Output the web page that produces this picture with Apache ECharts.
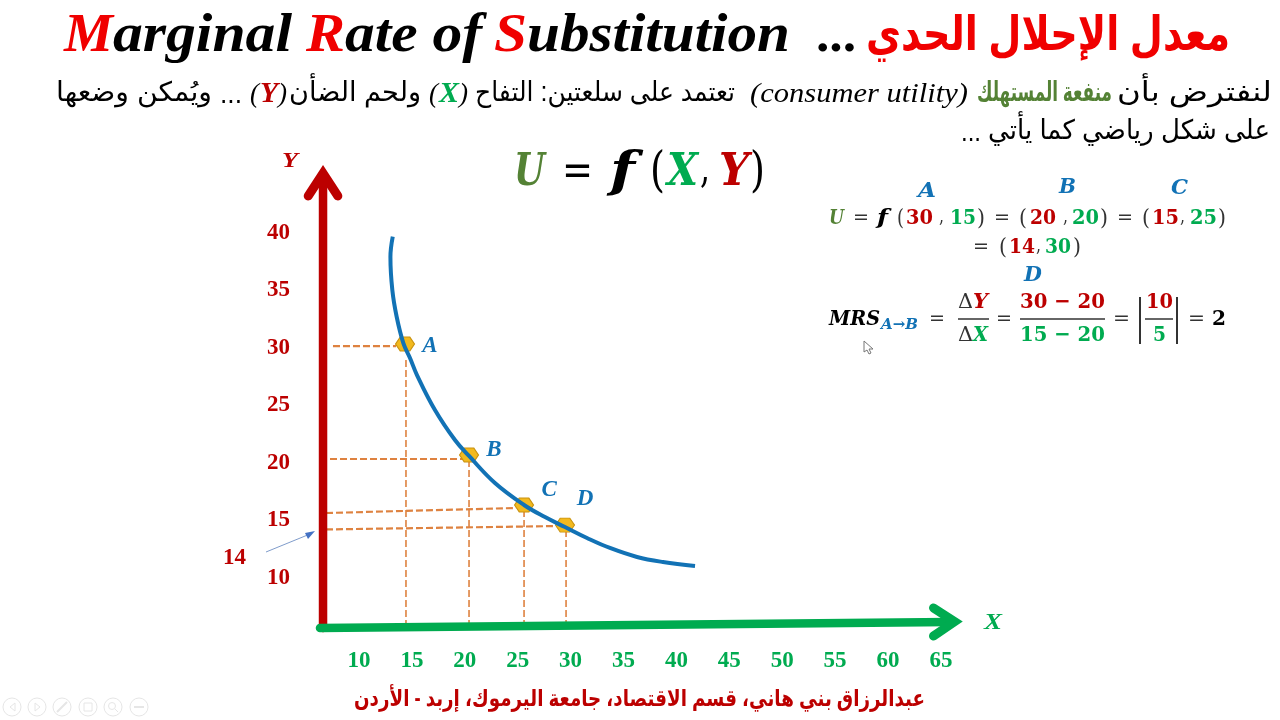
<!DOCTYPE html>
<html>
<head>
<meta charset="utf-8">
<title>Marginal Rate of Substitution</title>
<script src="https://cdn.jsdelivr.net/npm/echarts@6/dist/echarts.min.js"></script>
<style>
  html, body { margin: 0; padding: 0; background: #fff; }
  #chart { width: 1280px; height: 720px; }
</style>
</head>
<body>
<div id="chart"></div>
<script>
// indifference curve [x, y]
const curve = [
  [13.19, 39.68], [12.97, 37.91], [13.15, 35.04], [13.56, 32.72], [14.19, 30.43],
  [14.82, 29.13], [15.48, 27.65], [17.18, 24.61], [19.07, 22.0], [20.4, 20.61], [22.85, 18.26],
  [25.6, 16.35], [27.58, 15.3], [29.47, 14.43], [31.55, 13.48], [33.72, 12.61],
  [36.28, 11.83], [38.73, 11.39], [41.76, 11.04]
];
const pointNames = ['A', 'B', 'C', 'D'];
const pointsX = [14.35, 20.4, 25.6, 29.47];
const pointsY = [30.35, 20.7, 16.35, 14.6];

// dashed guides, hand drawn on the slide so slightly tilted
const guideH = [
  [[7.54, 30.17], [13.5, 30.17]],
  [[7.26, 20.35], [20.3, 20.35]],
  [[6.88, 15.65], [24.84, 16.09]],
  [[6.88, 14.22], [28.71, 14.52]]
];
const guideV = [
  [[14.44, 28.96], [14.44, 5.91]],
  [[20.4, 20.26], [20.4, 5.91]],
  [[25.6, 15.91], [25.6, 6.17]],
  [[29.57, 14.17], [29.57, 5.48]]
];

// the two big arrows
const yShaft = [[6.6, 5.65], [6.6, 44.6]];
const yHead = [[5.2, 43.22], [6.6, 45.2], [8.0, 43.22]];
const xShaft = [[6.31, 5.65], [65.86, 6.17]];
const xHead = [[64.3, 7.4], [66.3, 6.2], [64.3, 4.95]];

const RED = '#BC0000';
const GREEN = '#00AB50';
const BLUE = '#1272B5';
const OLIVE = '#548235';
const ORANGE = '#DE8240';
const AR = '"Liberation Sans", "DejaVu Sans", sans-serif';
const SERIF = '"Liberation Serif", serif';
const MATH = '"DejaVu Serif", serif';
const HEX = 'path://M3,0 L9,0 L12,5 L9,10 L3,10 L0,5 Z';

const measure = document.createElement('canvas').getContext('2d');

// text squeezed to sit exactly between x0 and x1
function seg(text, x0, x1, y, font, fill) {
  measure.font = font;
  const w = measure.measureText(text).width;
  const size = parseFloat(font.match(/([\d.]+)px/)[1]);
  return {
    type: 'text', x: x0, y: y + Math.round(size * 0.08), scaleX: (x1 - x0) / w, silent: true,
    style: { text: text, font: font, fill: fill, textAlign: 'left', textVerticalAlign: 'middle' }
  };
}

function mathBar(x0, x1, y) {
  return { type: 'line', shape: { x1: x0, y1: y, x2: x1, y2: y }, style: { stroke: '#333', lineWidth: 1.5 }, silent: true };
}

const f20 = 'bold 21px ' + MATH;
const i20 = 'italic bold 21px ' + MATH;
const p20 = '23px ' + MATH;
const body = '27px ' + AR;
const bodyB = 'bold 27px ' + AR;
const latin = 'italic 27px ' + SERIF;
const title = 'italic bold 55px ' + SERIF;

const texts = [
  // title
  seg('M', 64, 113, 33, title, '#F00000'),
  seg('arginal', 113, 292, 33, title, '#000'),
  seg('R', 306, 345, 33, title, '#F00000'),
  seg('ate of', 345, 482, 33, title, '#000'),
  seg('S', 494, 527, 33, title, '#F00000'),
  seg('ubstitution', 527, 790, 33, title, '#000'),
  seg('...', 818, 858, 34, 'italic bold 50px ' + SERIF, '#000'),
  seg('معدل الإحلال الحدي', 866, 1230, 33, 'bold 48px ' + AR, '#F00000'),

  // first line of the text, right to left
  seg('لنفترض بأن', 1117, 1272, 92, body, '#000'),
  seg('منفعة المستهلك', 977, 1112, 92, bodyB, OLIVE),
  seg('(consumer utility)', 750, 968, 93, latin, '#000'),
  seg('تعتمد على سلعتين: التفاح', 475, 735, 92, body, '#000'),
  seg('(', 429, 438, 93, latin, '#000'),
  seg('X', 439, 459, 93, 'italic bold 29px ' + SERIF, GREEN),
  seg(')', 459, 468, 93, latin, '#000'),
  seg('ولحم الضأن', 289, 421, 92, body, '#000'),
  seg('(', 250, 259, 93, latin, '#000'),
  seg('Y', 260, 278, 93, 'italic bold 29px ' + SERIF, RED),
  seg(')', 278, 287, 93, latin, '#000'),
  seg('...', 220, 242, 94, body, '#000'),
  seg('ويُمكن وضعها', 56, 212, 92, body, '#000'),
  // second line
  seg('على شكل رياضي كما يأتي', 988, 1270, 130, body, '#000'),
  seg('...', 961, 981, 132, body, '#000'),

  // big formula
  seg('U', 514, 545, 170, 'italic bold 44px ' + MATH, OLIVE),
  seg('=', 562, 593, 170, '44px ' + MATH, '#000'),
  seg('f', 610, 635, 170, 'italic bold 48px ' + MATH, '#000'),
  seg('(', 650, 665, 170, '48px ' + MATH, '#000'),
  seg('X', 667, 698, 170, 'italic bold 44px ' + MATH, GREEN),
  seg(',', 700, 710, 167, '44px ' + MATH, '#000'),
  seg('Y', 719, 749, 170, 'italic bold 44px ' + MATH, RED),
  seg(')', 750, 765, 170, '48px ' + MATH, '#000'),

  // U = f(...) block
  seg('A', 918, 936, 190, i20, BLUE),
  seg('B', 1059, 1076, 186, i20, BLUE),
  seg('C', 1171, 1188, 187, i20, BLUE),
  seg('U', 829, 844, 217, i20, OLIVE),
  seg('=', 853, 869, 217, '21px ' + MATH, '#333'),
  seg('f', 877, 888, 217, i20, '#000'),
  seg('(', 897, 904, 217, p20, '#333'),
  seg('30', 906, 933, 217, f20, RED),
  seg(',', 939, 944, 215, '21px ' + MATH, '#333'),
  seg('15', 950, 976, 217, f20, GREEN),
  seg(')', 977, 985, 217, p20, '#333'),
  seg('=', 994, 1010, 217, '21px ' + MATH, '#333'),
  seg('(', 1019, 1027, 217, p20, '#333'),
  seg('20', 1030, 1056, 217, f20, RED),
  seg(',', 1063, 1068, 215, '21px ' + MATH, '#333'),
  seg('20', 1072, 1099, 217, f20, GREEN),
  seg(')', 1100, 1108, 217, p20, '#333'),
  seg('=', 1117, 1133, 217, '21px ' + MATH, '#333'),
  seg('(', 1142, 1150, 217, p20, '#333'),
  seg('15', 1152, 1179, 217, f20, RED),
  seg(',', 1180, 1185, 215, '21px ' + MATH, '#333'),
  seg('25', 1190, 1217, 217, f20, GREEN),
  seg(')', 1218, 1226, 217, p20, '#333'),
  seg('=', 973, 989, 246, '21px ' + MATH, '#333'),
  seg('(', 999, 1007, 246, p20, '#333'),
  seg('14', 1009, 1035, 246, f20, RED),
  seg(',', 1036, 1041, 244, '21px ' + MATH, '#333'),
  seg('30', 1045, 1071, 246, f20, GREEN),
  seg(')', 1073, 1081, 246, p20, '#333'),
  seg('D', 1024, 1042, 274, i20, BLUE),

  // MRS line
  seg('MRS', 829, 880, 318, i20, '#000'),
  seg('A→B', 881, 918, 324, 'italic bold 15px ' + MATH, BLUE),
  seg('=', 929, 945, 318, '21px ' + MATH, '#333'),
  seg('Δ', 958, 973, 301, '21px ' + MATH, '#333'),
  seg('Y', 973, 988, 301, i20, RED),
  seg('Δ', 958, 973, 334, '21px ' + MATH, '#333'),
  seg('X', 973, 988, 334, i20, GREEN),
  seg('=', 996, 1012, 318, '21px ' + MATH, '#333'),
  seg('30 − 20', 1020, 1105, 301, f20, RED),
  seg('15 − 20', 1020, 1105, 334, f20, GREEN),
  seg('=', 1113, 1130, 318, '21px ' + MATH, '#333'),
  seg('10', 1146, 1173, 301, f20, RED),
  seg('5', 1153, 1166, 334, f20, GREEN),
  seg('=', 1188, 1205, 318, '21px ' + MATH, '#333'),
  seg('2', 1212, 1226, 318, f20, '#000'),

  // footer, axis names and the 14 note
  seg('عبدالرزاق بني هاني، قسم الاقتصاد، جامعة اليرموك، إربد - الأردن', 354, 925, 698, 'bold 23px ' + AR, RED),
  seg('Y', 282, 298, 160, 'italic bold 21px ' + SERIF, RED),
  seg('X', 984, 1002, 621, 'italic bold 23px ' + SERIF, GREEN),
  seg('14', 223, 246, 556, 'bold 23px ' + SERIF, RED)
];

const shapes = [
  mathBar(958, 989, 319), mathBar(1020, 1105, 319), mathBar(1145, 1173, 319),
  { type: 'line', shape: { x1: 1140, y1: 297, x2: 1140, y2: 344 }, style: { stroke: '#333', lineWidth: 2 }, silent: true },
  { type: 'line', shape: { x1: 1177, y1: 297, x2: 1177, y2: 344 }, style: { stroke: '#333', lineWidth: 2 }, silent: true },
  // arrow pointing at 14
  { type: 'line', shape: { x1: 266, y1: 552, x2: 310, y2: 534 }, style: { stroke: '#7F9CCB', lineWidth: 1 }, silent: true },
  { type: 'polygon', shape: { points: [[315, 531], [305, 533], [308, 539]] }, style: { fill: '#4472C4' }, silent: true },
  // mouse pointer
  { type: 'polygon', shape: { points: [[864, 341], [864, 352], [867, 350], [869, 354], [871, 353], [869, 349], [873, 349]] }, style: { fill: '#fff', stroke: '#777', lineWidth: 1 }, silent: true }
];
// faint slideshow buttons in the corner
const faint = { fill: 'none', stroke: '#E6E6E6', lineWidth: 1 };
[12, 37, 62, 88, 113, 139].forEach(function (cx) {
  shapes.push({ type: 'circle', shape: { cx: cx, cy: 707, r: 9 }, style: faint, silent: true });
});
shapes.push(
  { type: 'polygon', shape: { points: [[15, 703], [10, 707], [15, 711]] }, style: faint, silent: true },
  { type: 'polygon', shape: { points: [[35, 703], [40, 707], [35, 711]] }, style: faint, silent: true },
  { type: 'line', shape: { x1: 57, y1: 712, x2: 67, y2: 702 }, style: { stroke: '#E6E6E6', lineWidth: 2 }, silent: true },
  { type: 'rect', shape: { x: 84, y: 703, width: 8, height: 8 }, style: faint, silent: true },
  { type: 'circle', shape: { cx: 112, cy: 706, r: 3.5 }, style: faint, silent: true },
  { type: 'line', shape: { x1: 115, y1: 709, x2: 118, y2: 712 }, style: faint, silent: true },
  { type: 'line', shape: { x1: 134, y1: 707, x2: 144, y2: 707 }, style: { stroke: '#E6E6E6', lineWidth: 2 }, silent: true }
);

function lineSeries(data, color, width, z, dashed) {
  return {
    type: 'line', data: data, symbol: 'none', clip: false, silent: true, z: z,
    lineStyle: { color: color, width: width, type: dashed ? [7, 3] : 'solid', cap: dashed ? 'butt' : 'round', join: 'miter' }
  };
}

const labelOffsets = { A: [25, 2], B: [25, -5], C: [25, -15], D: [20, -26] };

const chart = echarts.init(document.getElementById('chart'));
chart.setOption({
  animation: false,
  backgroundColor: '#fff',
  grid: { left: 306.1, top: 118, width: 687.7, height: 517.5 },
  xAxis: {
    type: 'value', min: 5, max: 70, interval: 5,
    axisLine: { show: false }, axisTick: { show: false }, splitLine: { show: false },
    axisLabel: {
      margin: 14, color: GREEN, fontFamily: 'Liberation Serif', fontWeight: 'bold', fontSize: 23,
      formatter: function (v) { return v >= 10 && v <= 65 ? String(v) : ''; }
    }
  },
  yAxis: {
    type: 'value', min: 5, max: 50, interval: 5,
    axisLine: { show: false }, axisTick: { show: false }, splitLine: { show: false },
    axisLabel: {
      margin: 16, color: RED, fontFamily: 'Liberation Serif', fontWeight: 'bold', fontSize: 23,
      formatter: function (v) { return v >= 10 && v <= 40 ? String(v) : ''; }
    }
  },
  series: [].concat(
    guideH.map(function (d) { return lineSeries(d, ORANGE, 2.2, 2, true); }),
    guideV.map(function (d) { return lineSeries(d, ORANGE, 1.6, 2, true); }),
    [
      lineSeries(yShaft, RED, 8.5, 3),
      lineSeries(yHead, RED, 9, 3),
      lineSeries(xShaft, GREEN, 8.5, 4),
      lineSeries(xHead, GREEN, 9, 4),
      {
        type: 'scatter', silent: true, z: 5, symbol: HEX, symbolSize: [19, 14],
        itemStyle: { color: '#F2B91E', borderColor: '#C9920F', borderWidth: 1, opacity: 1 },
        data: pointNames.map(function (n, i) {
          return {
            name: n, value: [pointsX[i], pointsY[i]],
            label: {
              show: true, position: 'inside', offset: labelOffsets[n], formatter: n, opacity: 1,
              color: BLUE, fontFamily: 'Liberation Serif', fontStyle: 'italic', fontWeight: 'bold', fontSize: 23
            }
          };
        })
      },
      {
        type: 'line', data: curve, smooth: 0.4, symbol: 'none', clip: false, silent: true, z: 6,
        lineStyle: { color: BLUE, width: 4 }
      }
    ]
  ),
  graphic: { elements: texts.concat(shapes) }
});
</script>
</body>
</html>
